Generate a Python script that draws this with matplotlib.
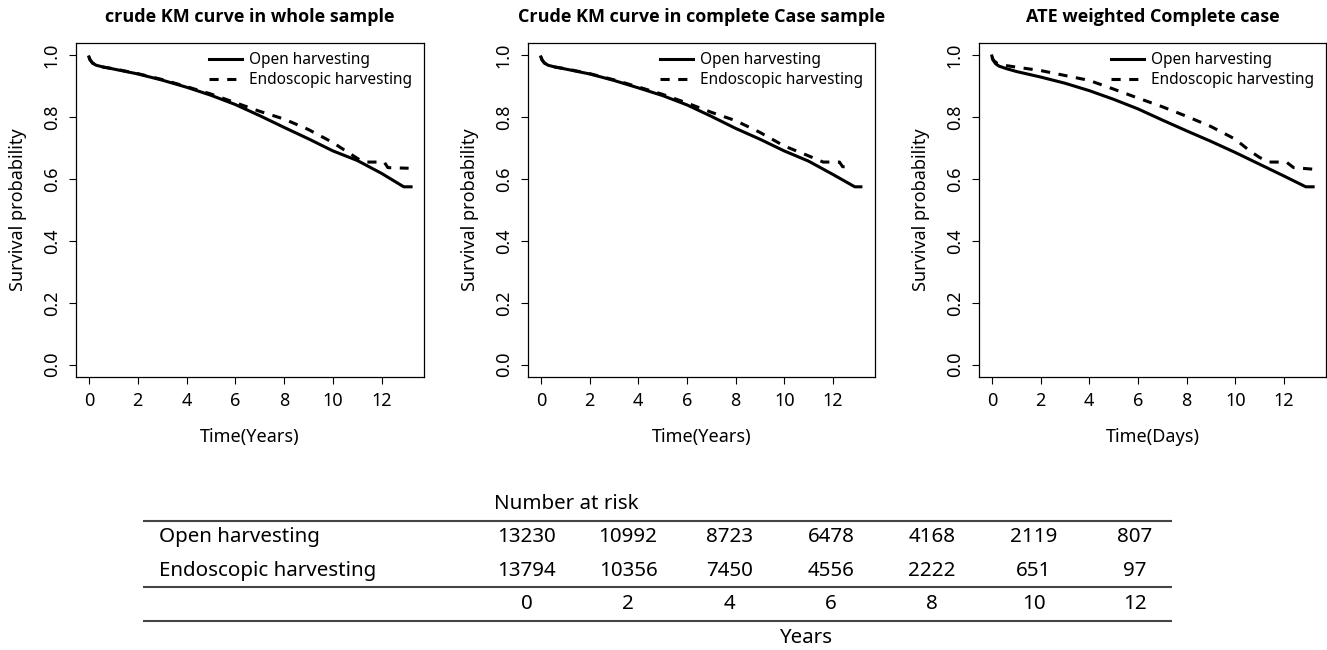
import matplotlib
matplotlib.use("Agg")
import matplotlib.pyplot as plt

plt.rcParams["font.family"] = ["Noto Sans", "DejaVu Sans"]

# ---- survival curves (time in years, survival prob) ----
# panel 1: crude KM curve in whole sample
p1_open_t = [0, 0.05, 0.15, 0.3, 0.6, 1.0, 2, 3, 4, 5, 6, 7, 8, 9, 10, 11, 12, 12.9, 13.2]
p1_open_s = [0.995, 0.985, 0.975, 0.968, 0.962, 0.956, 0.940, 0.920, 0.897, 0.871, 0.841,
             0.805, 0.767, 0.730, 0.691, 0.660, 0.618, 0.575, 0.575]
p1_endo_t = [0, 0.05, 0.15, 0.3, 0.6, 1.0, 2, 3, 4, 5, 6, 7, 8, 9, 10, 10.6, 11.1, 11.4,
             12.1, 12.25, 13.1]
p1_endo_s = [0.995, 0.985, 0.975, 0.968, 0.962, 0.957, 0.941, 0.922, 0.899, 0.875, 0.847,
             0.819, 0.794, 0.760, 0.718, 0.687, 0.662, 0.655, 0.655, 0.637, 0.635]

# panel 2: crude KM curve in complete case sample
p2_open_t = [0, 0.05, 0.15, 0.3, 0.6, 1.0, 2, 3, 4, 5, 6, 7, 8, 9, 10, 11, 12, 12.9, 13.15]
p2_open_s = [0.995, 0.985, 0.975, 0.968, 0.962, 0.956, 0.940, 0.919, 0.895, 0.870, 0.840,
             0.803, 0.764, 0.729, 0.691, 0.658, 0.615, 0.575, 0.575]
p2_endo_t = [0, 0.05, 0.15, 0.3, 0.6, 1.0, 2, 3, 4, 5, 6, 7, 8, 9, 10, 11, 11.6, 12.27,
             12.4, 12.75]
p2_endo_s = [0.995, 0.985, 0.975, 0.968, 0.962, 0.957, 0.941, 0.921, 0.898, 0.874, 0.846,
             0.816, 0.789, 0.751, 0.707, 0.675, 0.655, 0.655, 0.640, 0.640]

# panel 3: ATE weighted complete case
p3_open_t = [0, 0.05, 0.15, 0.3, 0.6, 1.0, 2, 3, 4, 5, 6, 7, 8, 9, 10, 11, 12, 12.9, 13.2]
p3_open_s = [0.998, 0.985, 0.973, 0.965, 0.957, 0.948, 0.930, 0.910, 0.886, 0.858, 0.827,
             0.791, 0.756, 0.722, 0.686, 0.648, 0.610, 0.575, 0.575]
p3_endo_t = [0, 0.05, 0.2, 0.5, 1, 2, 3, 4, 5, 6, 7, 8, 9, 10, 10.6, 11.0, 11.4, 12.1,
             12.4, 13.2]
p3_endo_s = [0.995, 0.985, 0.975, 0.968, 0.962, 0.951, 0.935, 0.919, 0.891, 0.862, 0.834,
             0.803, 0.770, 0.729, 0.691, 0.670, 0.655, 0.655, 0.637, 0.632]

titles = ["crude KM curve in whole sample",
          "Crude KM curve in complete Case sample",
          "ATE weighted Complete case"]
xlabels = ["Time(Years)", "Time(Years)", "Time(Days)"]
group_names = ["Open harvesting", "Endoscopic harvesting"]

# ---- number at risk table ----
risk_times = [0, 2, 4, 6, 8, 10, 12]
risk_open = [13230, 10992, 8723, 6478, 4168, 2119, 807]
risk_endo = [13794, 10356, 7450, 4556, 2222, 651, 97]

W, H = 1327, 650
fig = plt.figure(figsize=(W / 100, H / 100), dpi=100)

panels = [
    (76, 348, p1_open_t, p1_open_s, p1_endo_t, p1_endo_s),
    (528, 347, p2_open_t, p2_open_s, p2_endo_t, p2_endo_s),
    (979, 347, p3_open_t, p3_open_s, p3_endo_t, p3_endo_s),
]
top, bottom = 43, 377

for i, (left, width, ot, os_, et, es) in enumerate(panels):
    ax = fig.add_axes([left / W, 1 - bottom / H, width / W, (bottom - top) / H])
    ax.plot(ot, os_, color="black", lw=2.2, label=group_names[0])
    ax.plot(et, es, color="black", lw=2.2, dashes=(3, 2.8), label=group_names[1])
    ax.set_xlim(-0.53, 13.73)
    ax.set_ylim(-0.04, 1.04)
    ax.set_xticks([0, 2, 4, 6, 8, 10, 12])
    ax.set_yticks([0.0, 0.2, 0.4, 0.6, 0.8, 1.0])
    ax.set_yticklabels(["0.0", "0.2", "0.4", "0.6", "0.8", "1.0"])
    ax.tick_params(direction="out", length=5, width=0.8, labelsize=13, pad=6)
    plt.setp(ax.get_yticklabels(), rotation=90, va="center")
    for sp in ax.spines.values():
        sp.set_linewidth(0.9)
    ax.set_title(titles[i], fontsize=13, fontweight="bold", y=1.078, va="center",
                 pad=0, family=["Open Sans", "Noto Sans", "DejaVu Sans"])
    ax.set_xlabel(xlabels[i], fontsize=13, va="center")
    ax.xaxis.set_label_coords(0.5, -0.18)
    ax.set_ylabel("Survival probability", fontsize=13, va="center")
    ax.yaxis.set_label_coords(-0.168, 0.5)
    ax.legend(loc="upper right", bbox_to_anchor=(1, 1.007), frameon=False, fontsize=11.1,
              handlelength=2.15, handletextpad=0.5, labelspacing=0.25,
              borderaxespad=0.45, borderpad=0.3)

# ---- risk table ----
tl, tr = 143.3, 1171.7
x0_px, x12_px = 526.7, 1135.0
per_year = (x12_px - x0_px) / 12
ax_t = fig.add_axes([tl / W, 0, (tr - tl) / W, 155 / H])
ax_t.set_xlim(-(x0_px - tl) / per_year, 12 + (tr - x12_px) / per_year)
ax_t.set_ylim(4.371, -0.269)
ax_t.axis("off")

fs = 14.8
ax_t.text(-0.65, 0, "Number at risk", fontsize=fs, ha="left", va="center")
for y in [0.5, 2.5, 3.5]:
    ax_t.axhline(y, color="#444444", lw=1.5)
ax_t.text(0.0156, 1, group_names[0], transform=ax_t.get_yaxis_transform(),
          fontsize=fs, ha="left", va="center")
ax_t.text(0.0156, 2, group_names[1], transform=ax_t.get_yaxis_transform(),
          fontsize=fs, ha="left", va="center")
for t, a, b in zip(risk_times, risk_open, risk_endo):
    ax_t.text(t, 1, str(a), fontsize=fs, ha="center", va="center")
    ax_t.text(t, 2, str(b), fontsize=fs, ha="center", va="center")
    ax_t.text(t, 3, str(t), fontsize=fs, ha="center", va="center")
ax_t.text(5.5, 4, "Years", fontsize=fs, ha="center", va="center")

fig.savefig("out.png", dpi=100)
